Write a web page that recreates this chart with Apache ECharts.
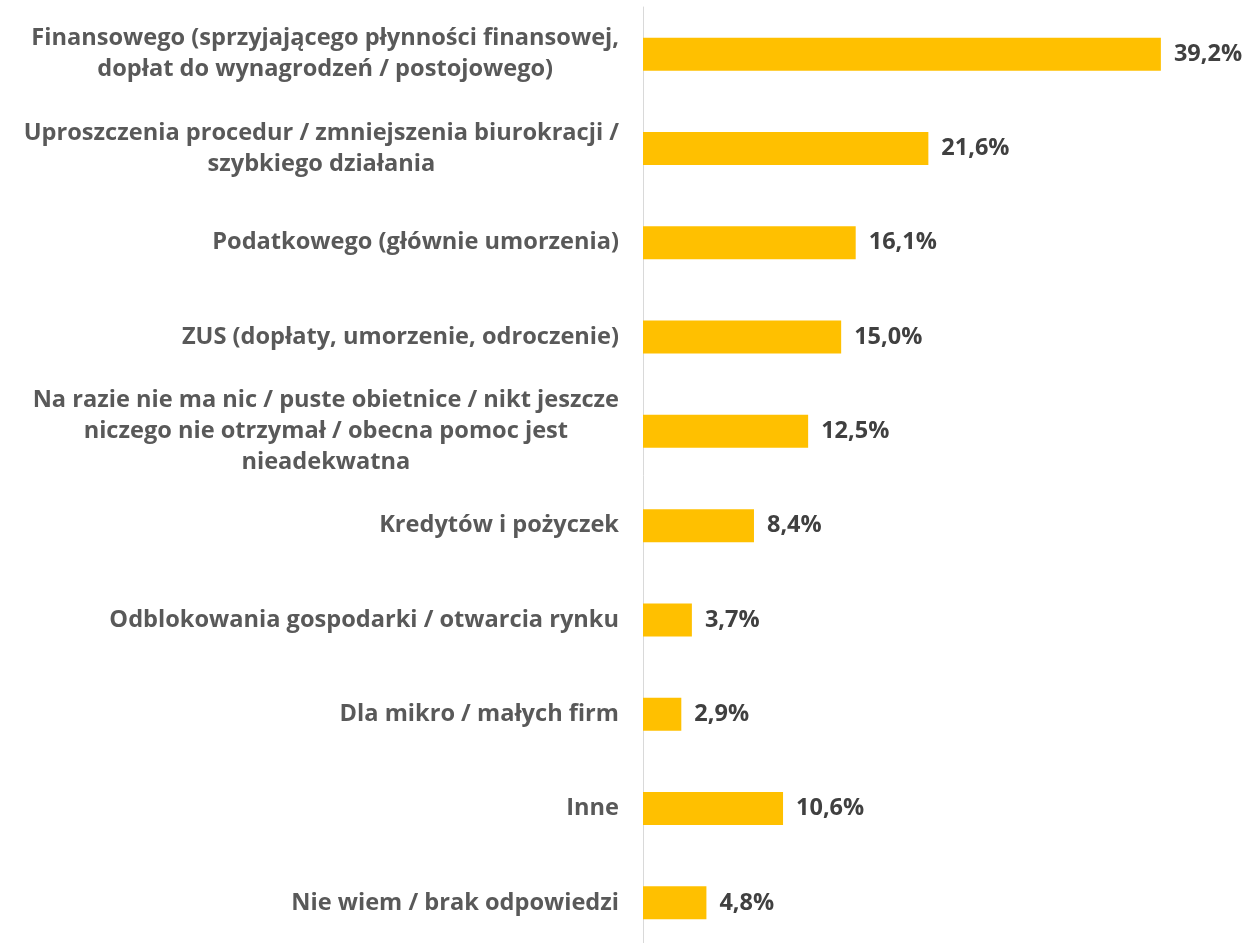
<!DOCTYPE html>
<html>
<head>
<meta charset="utf-8">
<script src="https://cdn.jsdelivr.net/npm/echarts@6/dist/echarts.min.js"></script>
<style>html,body{margin:0;padding:0;background:#fff}#c{width:1249px;height:943px}</style>
</head>
<body>
<div id="c"></div>
<script>
var categories = [
  "Finansowego (sprzyjającego płynności finansowej,\ndopłat do wynagrodzeń / postojowego)",
  "Uproszczenia procedur / zmniejszenia biurokracji /\nszybkiego działania",
  "Podatkowego (głównie umorzenia)",
  "ZUS (dopłaty, umorzenie, odroczenie)",
  "Na razie nie ma nic / puste obietnice / nikt jeszcze\nniczego nie otrzymał / obecna pomoc jest\nnieadekwatna",
  "Kredytów i pożyczek",
  "Odblokowania gospodarki / otwarcia rynku",
  "Dla mikro / małych firm",
  "Inne",
  "Nie wiem / brak odpowiedzi"
];
var values = [39.2, 21.6, 16.1, 15.0, 12.5, 8.4, 3.7, 2.9, 10.6, 4.8];

var FONT = "Open Sans";
var chart = echarts.init(document.getElementById('c'), null, {renderer: 'canvas'});
chart.setOption({
  animation: false,
  grid: {left: 643, top: 7, width: 594.5, height: 943, outerBoundsMode: 'none', containLabel: false},
  xAxis: {type: 'value', min: 0, max: 45, show: false},
  yAxis: {
    type: 'category', data: categories, inverse: true,
    axisLine: {show: true, lineStyle: {color: '#d9d9d9', width: 1}},
    axisTick: {show: false},
    splitLine: {show: false},
    axisLabel: {
      margin: 24,
      formatter: function (v) {
        return v.split('\n').map(function (l) { return '{c|' + l + '}'; }).join('\n');
      },
      rich: {
        c: {align: 'center', fontFamily: FONT, fontWeight: 'bold', fontSize: 23.6, color: '#595959', lineHeight: 31}
      }
    }
  },
  series: [{
    type: 'bar', data: values, barWidth: 33,
    itemStyle: {color: '#FFC000'},
    label: {
      show: true, position: 'right', distance: 13,
      fontFamily: FONT, fontWeight: 'bold', fontSize: 23.5, color: '#404040',
      formatter: function (p) { return p.value.toFixed(1).replace('.', ',') + '%'; }
    }
  }]
});
</script>
</body>
</html>
